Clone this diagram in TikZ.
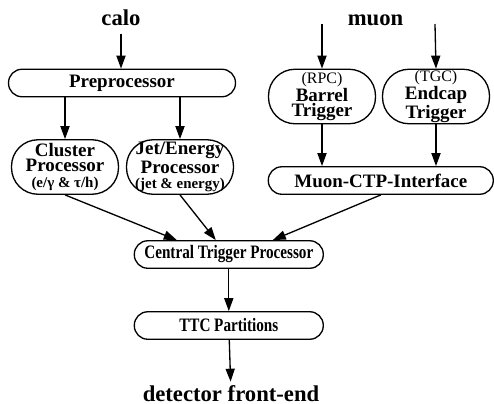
\documentclass[tikz,border=0pt]{standalone}
\usepackage{fontspec}
\setmainfont{Liberation Serif}
\newfontfamily\condfont[FakeStretch=0.8]{Liberation Serif}
\usetikzlibrary{arrows.meta}

\tikzset{
  head/.style={font=\fontsize{12.9}{14}\selectfont\bfseries, inner sep=2pt},
  box/.style={draw, line width=0.75pt, rounded corners=0.27cm, minimum height=0.55cm,
    inner sep=0pt, font=\fontsize{10.8}{8.6}\selectfont\bfseries, align=center},
  tallbox/.style={box, rounded corners=0.53cm, minimum height=1.09cm, minimum width=2.14cm},
  thinbox/.style={box, font=\fontsize{10.8}{8.6}\condfont\bfseries},
  flow/.style={line width=0.75pt, -{Triangle[length=7.4pt,width=5.2pt]}}
}
\newcommand{\subline}[1]{{\fontsize{8.5}{7}\selectfont #1}}
\newcommand{\topline}[1]{{\fontsize{9.1}{8}\selectfont\mdseries #1}}

\begin{document}
\begin{tikzpicture}[x=0.02cm, y=-0.02cm]
  \useasboundingbox (0,0) rectangle (494,403);
  % inputs
  \node[head, anchor=base] (calo) at (121,25) {calo};
  \node[head, anchor=base] (muon) at (375.5,25) {muon};
  \coordinate (muonL) at (322,24);
  \coordinate (muonR) at (435,24);
  % calorimeter branch
  \node[box, minimum width=4.54cm] (pre) at (122,83) {Preprocessor};
  \node[tallbox] (clus) at (65,167) {Cluster\\Processor\\\subline{(e/γ \& τ/h)}};
  \node[tallbox] (jet) at (180,167) {Jet/Energy\\Processor\\\subline{(jet \& energy)}};
  % muon branch
  \node[tallbox] (barrel) at (322,96.5) {\topline{(RPC)}\\Barrel\\Trigger};
  \node[tallbox] (endcap) at (436,96.5) {\topline{(TGC)}\\Endcap\\Trigger};
  \node[box, minimum width=4.5cm] (mctp) at (380.8,180.5) {Muon-CTP-Interface};
  % central part
  \node[thinbox, minimum width=3.78cm] (ctp) at (228.8,254.5) {Central Trigger Processor};
  \node[thinbox, minimum width=3.78cm] (ttc) at (228.8,325.5) {TTC Partitions};
  \node[head, anchor=base] (fe) at (231,401.5) {detector front-end};

  \draw[flow, shorten <=3pt] (calo.south) -- (calo.south |- pre.north);
  \draw[flow] (clus.north |- pre.south) -- (clus.north);
  \draw[flow] (jet.north |- pre.south) -- (jet.north);
  \draw[flow] (muonL) -- (barrel.north);
  \draw[flow] (muonR) -- (endcap.north);
  \draw[flow] (barrel.south) -- (barrel.south |- mctp.north);
  \draw[flow] (endcap.south) -- (endcap.south |- mctp.north);
  \draw[flow] (clus.south) -- ([xshift=-1.04cm]ctp.north);
  \draw[flow] (jet.south) -- ([xshift=-0.26cm]ctp.north);
  \draw[flow] (mctp.south) -- ([xshift=0.88cm]ctp.north);
  \draw[flow] (ctp) -- (ttc);
  \draw[flow] (ttc) -- (fe);
\end{tikzpicture}
\end{document}
